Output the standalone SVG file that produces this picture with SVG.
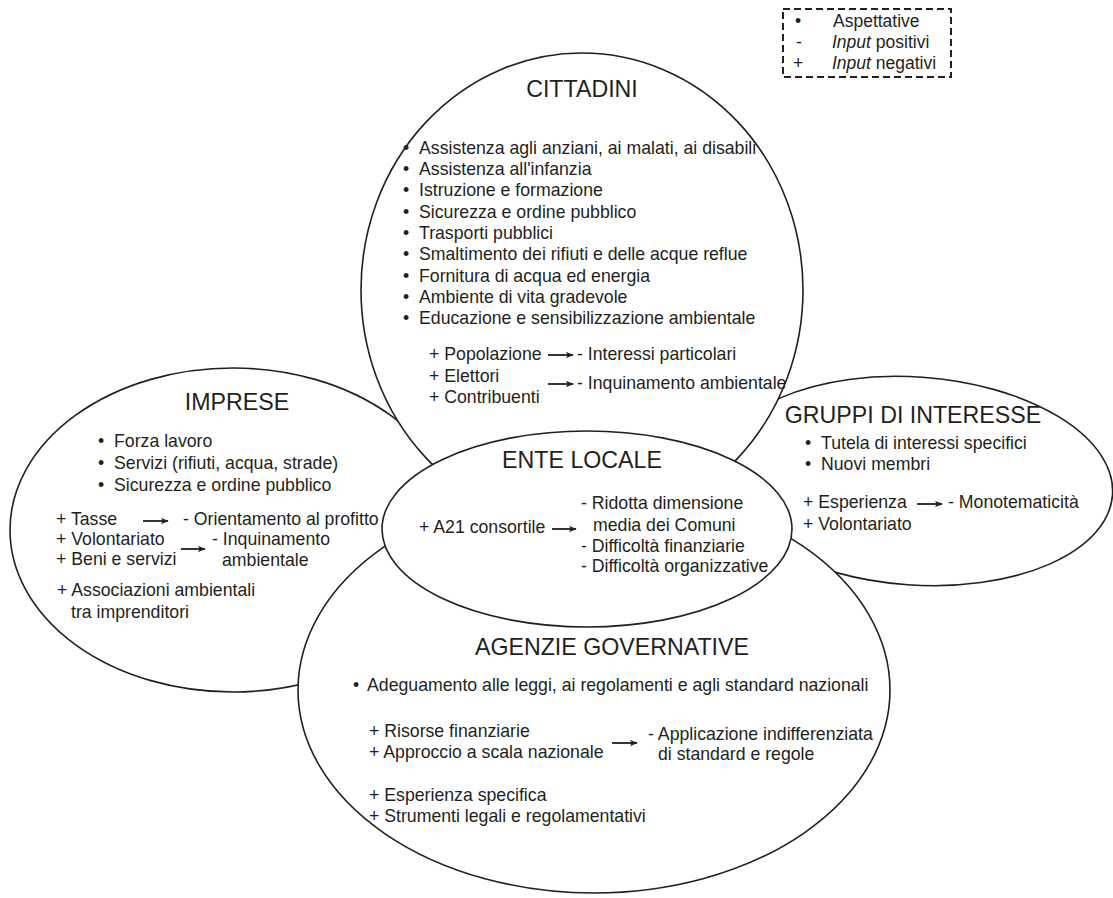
<svg xmlns="http://www.w3.org/2000/svg" width="1113" height="898" viewBox="0 0 1113 898">
<style>
text{font-family:"Liberation Sans",Arial,Helvetica,sans-serif;fill:#231f20;font-size:17.7px}
.t{font-size:23.2px;text-anchor:middle}
.e{fill:#fff;stroke:#231f20;stroke-width:1.6}
.a{stroke:#231f20;stroke-width:1.8;fill:none;marker-end:url(#ah)}
.lg{font-size:17.5px}
</style>
<defs>
<marker id="ah" viewBox="0 0 10 8" refX="9" refY="4" markerWidth="8" markerHeight="6.4" markerUnits="userSpaceOnUse" orient="auto">
<path d="M0,0 L10,4 L0,8 L2.5,4 z" fill="#231f20"/>
</marker>
</defs>
<rect width="1113" height="898" fill="#fff"/>

<g id="imprese">
<ellipse class="e" cx="233" cy="530" rx="223" ry="162"/>
<text class="t" x="237" y="410">IMPRESE</text>
<text x="98" y="447">•</text><text x="114" y="447">Forza lavoro</text>
<text x="98" y="469">•</text><text x="114" y="469">Servizi (rifiuti, acqua, strade)</text>
<text x="98" y="490.5">•</text><text x="114" y="490.5">Sicurezza e ordine pubblico</text>
<text x="56" y="525">+ Tasse</text>
<text x="183" y="525">- Orientamento al profitto</text>
<text x="56" y="545">+ Volontariato</text>
<text x="56" y="565">+ Beni e servizi</text>
<text x="212" y="545">- Inquinamento</text>
<text x="222" y="566">ambientale</text>
<text x="57" y="596">+ Associazioni ambientali</text>
<text x="71" y="618">tra imprenditori</text>
</g>

<g id="gruppi">
<ellipse class="e" cx="915" cy="481" rx="198" ry="104" transform="rotate(4 915 481)"/>
<text class="t" x="913" y="423">GRUPPI DI INTERESSE</text>
<text x="805" y="449">•</text><text x="821" y="449">Tutela di interessi specifici</text>
<text x="805" y="470">•</text><text x="821" y="470">Nuovi membri</text>
<text x="803" y="508">+ Esperienza</text>
<text x="948" y="508">- Monotematicità</text>
<text x="803" y="530">+ Volontariato</text>
</g>

<g id="agenzie">
<ellipse class="e" cx="594" cy="690" rx="296" ry="203"/>
<text class="t" x="612" y="655">AGENZIE GOVERNATIVE</text>
<text x="353" y="691">•</text><text x="367" y="691">Adeguamento alle leggi, ai regolamenti e agli standard nazionali</text>
<text x="369" y="737">+ Risorse finanziarie</text>
<text x="369" y="758">+ Approccio a scala nazionale</text>
<text x="648" y="740">- Applicazione indifferenziata</text>
<text x="658" y="759.5">di standard e regole</text>
<text x="369" y="801">+ Esperienza specifica</text>
<text x="369" y="822">+ Strumenti legali e regolamentativi</text>
</g>

<g id="cittadini">
<ellipse class="e" cx="582" cy="290" rx="221" ry="237"/>
<text class="t" x="582" y="97">CITTADINI</text>
<text x="403" y="154">•</text><text x="419" y="154">Assistenza agli anziani, ai malati, ai disabili</text>
<text x="403" y="175">•</text><text x="419" y="175">Assistenza all'infanzia</text>
<text x="403" y="196">•</text><text x="419" y="196">Istruzione e formazione</text>
<text x="403" y="218">•</text><text x="419" y="218">Sicurezza e ordine pubblico</text>
<text x="403" y="239">•</text><text x="419" y="239">Trasporti pubblici</text>
<text x="403" y="260">•</text><text x="419" y="260">Smaltimento dei rifiuti e delle acque reflue</text>
<text x="403" y="282">•</text><text x="419" y="282">Fornitura di acqua ed energia</text>
<text x="403" y="303">•</text><text x="419" y="303">Ambiente di vita gradevole</text>
<text x="403" y="324">•</text><text x="419" y="324">Educazione e sensibilizzazione ambientale</text>
<text x="429" y="360">+ Popolazione</text>
<text x="577" y="360">- Interessi particolari</text>
<text x="429" y="381.5">+ Elettori</text>
<text x="429" y="403">+ Contribuenti</text>
<text x="577" y="389">- Inquinamento ambientale</text>
</g>

<g id="ente-locale">
<ellipse class="e" cx="587" cy="529" rx="205" ry="98"/>
<text class="t" x="582" y="468">ENTE LOCALE</text>
<text x="419" y="533">+ A21 consortile</text>
<text x="581" y="509">- Ridotta dimensione</text>
<text x="593" y="531">media dei Comuni</text>
<text x="581" y="551.5">- Difficoltà finanziarie</text>
<text x="581" y="572">- Difficoltà organizzative</text>
</g>

<g id="connectors">
<path class="a" d="M548,355 H573"/>
<path class="a" d="M548,384 H573"/>
<path class="a" d="M143,521 H168"/>
<path class="a" d="M181,549 H205"/>
<path class="a" d="M552,529 H576"/>
<path class="a" d="M917,504 H942"/>
<path class="a" d="M612,743 H637"/>
</g>

<g id="legend">
<rect x="783" y="9" width="168" height="68" fill="none" stroke="#231f20" stroke-width="2" stroke-dasharray="7,4"/>
<text class="lg" x="795" y="26.5">•</text><text class="lg" x="833" y="26.5">Aspettative</text>
<text class="lg" x="796" y="47.5">-</text><text class="lg" x="832" y="47.5"><tspan font-style="italic">Input</tspan> positivi</text>
<text class="lg" x="793" y="68.5">+</text><text class="lg" x="832" y="68.5"><tspan font-style="italic">Input</tspan> negativi</text>
</g>
</svg>
